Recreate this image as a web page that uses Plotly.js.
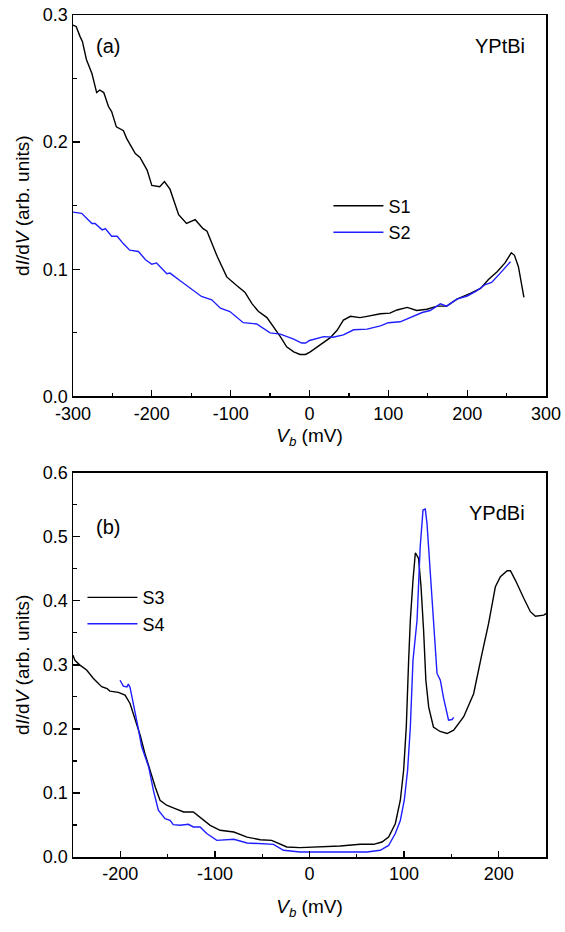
<!DOCTYPE html>
<html>
<head>
<meta charset="utf-8">
<script src="https://cdn.plot.ly/plotly-3.0.1.min.js"></script>
<style>
  html, body { margin: 0; padding: 0; background: #fff; }
  #chart { width: 565px; height: 932px; }
</style>
</head>
<body>
<div id="chart"></div>
<script>
// ---- (a) YPtBi ----
const s1V = [-300, -296, -291, -288, -283, -276, -270, -266, -261, -255, -251, -245, -236, -232, -221, -215, -206, -200, -190, -184, -177, -168, -166, -156, -145, -135, -130, -117, -105, -92, -82, -73, -65, -54, -46, -37, -29, -20, -12, -5, 1, 14, 26, 35, 43, 52, 64, 73, 90, 102, 111, 124, 136, 149, 162, 174, 187, 204, 217, 227, 238, 248, 256, 260, 265, 272];
const s1Y = [0.292, 0.291, 0.283, 0.279, 0.265, 0.254, 0.239, 0.241, 0.239, 0.228, 0.224, 0.212, 0.209, 0.203, 0.191, 0.188, 0.178, 0.166, 0.165, 0.169, 0.163, 0.147, 0.143, 0.136, 0.139, 0.132, 0.130, 0.110, 0.094, 0.087, 0.082, 0.073, 0.067, 0.062, 0.055, 0.047, 0.039, 0.035, 0.033, 0.033, 0.035, 0.041, 0.046, 0.052, 0.060, 0.063, 0.062, 0.063, 0.065, 0.0655, 0.068, 0.070, 0.0676, 0.0686, 0.071, 0.071, 0.0765, 0.081, 0.085, 0.092, 0.098, 0.105, 0.113, 0.111, 0.102, 0.078];

const s2V = [-300, -289, -276, -272, -263, -259, -251, -244, -236, -228, -217, -208, -200, -194, -181, -177, -164, -151, -137, -124, -113, -101, -84, -67, -50, -37, -20, -10, -5, 0, 5, 18, 30, 43, 56, 73, 90, 100, 115, 132, 143, 153, 166, 174, 187, 200, 212, 223, 231, 242, 255];
const s2Y = [0.145, 0.144, 0.136, 0.136, 0.131, 0.132, 0.126, 0.126, 0.120, 0.115, 0.114, 0.1075, 0.104, 0.105, 0.0965, 0.097, 0.091, 0.085, 0.0786, 0.076, 0.0694, 0.0668, 0.058, 0.057, 0.050, 0.049, 0.045, 0.042, 0.042, 0.044, 0.045, 0.047, 0.0466, 0.0484, 0.0524, 0.0529, 0.0555, 0.058, 0.0587, 0.0634, 0.066, 0.0676, 0.0728, 0.071, 0.0765, 0.079, 0.083, 0.088, 0.0896, 0.097, 0.106];

// ---- (b) YPdBi ----
const s3V = [-250, -248, -243, -235.6, -228.6, -219.7, -214, -211, -202, -195, -189.7, -184.4, -179, -174, -168.6, -163, -158, -151, -142, -133, -122.8, -115.7, -105, -94.5, -80, -66, -52, -40, -24, -10, 11, 32.5, 53.6, 67.7, 76.6, 83.6, 90.7, 96, 99.5, 102.3, 104.8, 106.6, 109.4, 111.9, 115.3, 117.9, 120.6, 123, 126, 131, 138, 145.4, 152.4, 163, 173.5, 180.6, 182.4, 189.4, 196.5, 201.8, 208.9, 212.4, 217.7, 226.5, 233.5, 238.8, 247.6, 250];
const s3Y = [0.315, 0.307, 0.300, 0.292, 0.279, 0.266, 0.263, 0.259, 0.257, 0.2527, 0.2397, 0.216, 0.190, 0.1616, 0.1355, 0.109, 0.0886, 0.0808, 0.0756, 0.0703, 0.0703, 0.0625, 0.0495, 0.0417, 0.039, 0.031, 0.027, 0.026, 0.0156, 0.0147, 0.0156, 0.0172, 0.0198, 0.0198, 0.0234, 0.031, 0.052, 0.0886, 0.1355, 0.203, 0.307, 0.370, 0.432, 0.475, 0.466, 0.422, 0.354, 0.276, 0.234, 0.203, 0.196, 0.1928, 0.198, 0.219, 0.255, 0.307, 0.318, 0.365, 0.422, 0.4375, 0.447, 0.447, 0.432, 0.404, 0.383, 0.376, 0.3777, 0.380];

const s4V = [-200.3, -196.8, -193, -191.5, -189.7, -186, -182, -177.4, -170, -165, -159.8, -152.7, -147.4, -144, -137, -128, -122.8, -115.7, -108.6, -98, -80, -66, -52, -38, -27.5, -10, 25, 60.7, 74.8, 83.6, 90.7, 96, 100.2, 103.7, 106.6, 109.4, 113.7, 117, 120, 122.4, 124.2, 127.7, 131.2, 134.8, 138.3, 141.8, 147, 150.7, 152.4];
const s4Y = [0.276, 0.2667, 0.2656, 0.27, 0.2647, 0.2397, 0.2084, 0.172, 0.1406, 0.104, 0.073, 0.06, 0.0573, 0.0506, 0.0495, 0.051, 0.0469, 0.0469, 0.0366, 0.026, 0.0277, 0.0219, 0.0209, 0.0198, 0.0105, 0.0078, 0.0078, 0.0078, 0.0105, 0.018, 0.0366, 0.057, 0.0886, 0.1355, 0.203, 0.307, 0.370, 0.484, 0.5417, 0.5433, 0.521, 0.443, 0.370, 0.2866, 0.276, 0.2475, 0.2136, 0.2147, 0.218];

// tick labels (plain hyphen minus, as in the original figure)
const xTicksA = [-300, -200, -100, 0, 100, 200, 300];
const xLabelsA = ['-300', '-200', '-100', '0', '100', '200', '300'];
const xTicksB = [-200, -100, 0, 100, 200];
const xLabelsB = ['-200', '-100', '0', '100', '200'];

// colours
const blackLine = '#000000';
const blueLine  = '#1e1eff';
const FONT = 'Arial, "Liberation Sans", sans-serif';

function lineTrace(x, y, name, color, xa, ya, legend) {
  return {
    x: x, y: y, name: name, mode: 'lines', type: 'scatter',
    xaxis: xa, yaxis: ya, legend: legend,
    line: { color: color, width: 1.4 }
  };
}

const traces = [
  lineTrace(s1V, s1Y, 'S1', blackLine, 'x', 'y', 'legend'),
  lineTrace(s2V, s2Y, 'S2', blueLine, 'x', 'y', 'legend'),
  lineTrace(s3V, s3Y, 'S3', blackLine, 'x2', 'y2', 'legend2'),
  lineTrace(s4V, s4Y, 'S4', blueLine, 'x2', 'y2', 'legend2')
];

// ticks point inward, minor ticks halfway
const minorTick = (d) => ({ dtick: d, ticks: 'inside', ticklen: 3.5, tickwidth: 1.2, tickcolor: '#000' });

function axisStyle(extra) {
  return Object.assign({
    showline: true, linecolor: '#000', linewidth: 1.5, mirror: true,
    ticks: 'inside', ticklen: 6.5, tickwidth: 1.3, tickcolor: '#000',
    showgrid: false, zeroline: false,
    tickfont: { family: FONT, size: 18, color: '#000' }
  }, extra);
}

const yTitle = 'd<i>I</i>/d<i>V</i> (arb. units)';
const xTitle = '<i>V<sub>b</sub></i> (mV)';

const layout = {
  width: 565, height: 932,
  margin: { t: 15, b: 75, l: 73, r: 19 },
  paper_bgcolor: '#fff', plot_bgcolor: '#fff',
  font: { family: FONT, color: '#000' },
  xaxis: axisStyle({
    domain: [0, 1], anchor: 'y', range: [-300, 300],
    tickmode: 'array', tickvals: xTicksA, ticktext: xLabelsA,
    minor: minorTick(50),
    title: { text: xTitle, font: { family: FONT, size: 19 }, standoff: 6 }
  }),
  yaxis: axisStyle({
    domain: [0.547, 1], anchor: 'x', range: [0, 0.3], dtick: 0.1, tickformat: '.1f',
    minor: minorTick(0.05),
    title: { text: yTitle, font: { family: FONT, size: 19 }, standoff: 8 }
  }),
  xaxis2: axisStyle({
    domain: [0, 1], anchor: 'y2', range: [-250, 250],
    tickmode: 'array', tickvals: xTicksB, ticktext: xLabelsB,
    minor: minorTick(50),
    title: { text: xTitle, font: { family: FONT, size: 19 }, standoff: 16 }
  }),
  yaxis2: axisStyle({
    domain: [0, 0.4564], anchor: 'x2', range: [0, 0.6], dtick: 0.1, tickformat: '.1f',
    minor: minorTick(0.05),
    title: { text: yTitle, font: { family: FONT, size: 19 }, standoff: 8 }
  }),
  legend: {
    x: 0.54, y: 0.795, xanchor: 'left', yanchor: 'top',
    bgcolor: 'rgba(0,0,0,0)', borderwidth: 0,
    font: { family: FONT, size: 18, color: '#000' },
    itemwidth: 50, tracegroupgap: 0
  },
  legend2: {
    x: 0.02, y: 0.33, xanchor: 'left', yanchor: 'top',
    bgcolor: 'rgba(0,0,0,0)', borderwidth: 0,
    font: { family: FONT, size: 18, color: '#000' },
    itemwidth: 50, tracegroupgap: 0
  },
  annotations: [
    { text: '(a)', xref: 'x domain', yref: 'y domain', x: 0.045, y: 0.92, xanchor: 'left', yanchor: 'middle', showarrow: false, font: { family: FONT, size: 20 } },
    { text: 'YPtBi', xref: 'x domain', yref: 'y domain', x: 0.96, y: 0.92, xanchor: 'right', yanchor: 'middle', showarrow: false, font: { family: FONT, size: 20 } },
    { text: '(b)', xref: 'x2 domain', yref: 'y2 domain', x: 0.045, y: 0.86, xanchor: 'left', yanchor: 'middle', showarrow: false, font: { family: FONT, size: 20 } },
    { text: 'YPdBi', xref: 'x2 domain', yref: 'y2 domain', x: 0.96, y: 0.895, xanchor: 'right', yanchor: 'middle', showarrow: false, font: { family: FONT, size: 20 } }
  ]
};

Plotly.newPlot('chart', traces, layout, { displayModeBar: false, staticPlot: true });
</script>
</body>
</html>
